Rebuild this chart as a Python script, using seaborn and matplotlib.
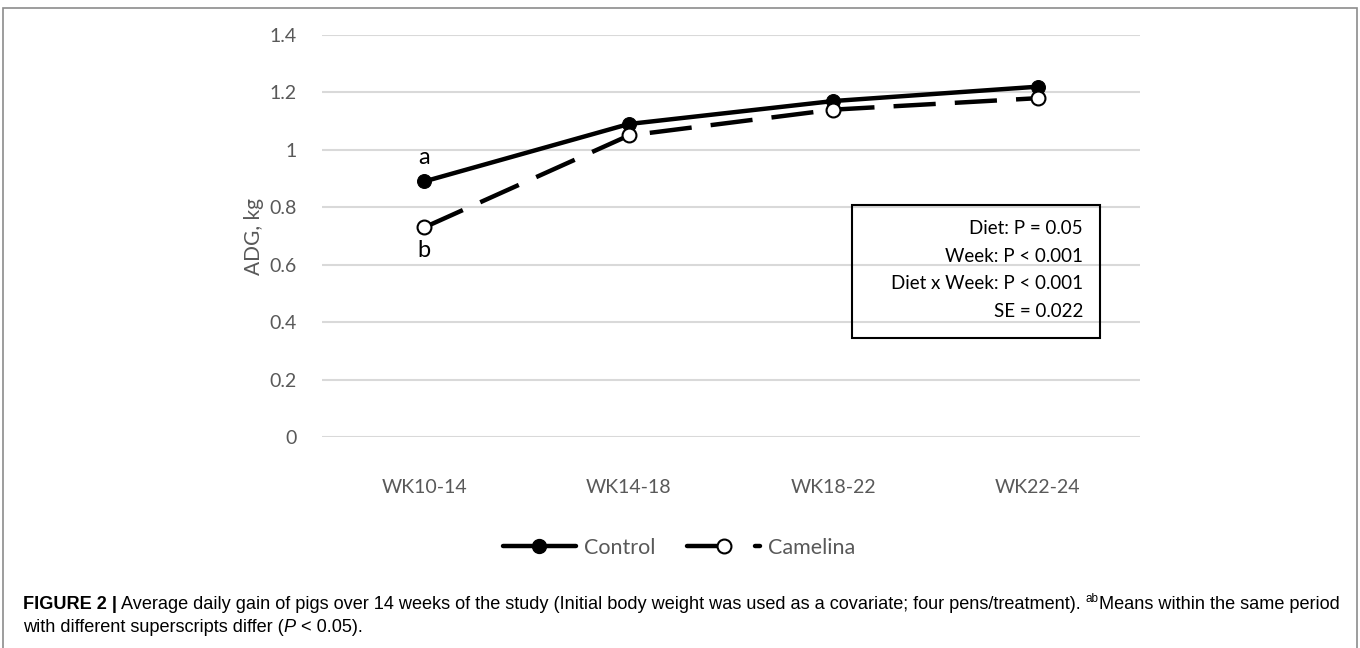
import matplotlib.pyplot as plt
import matplotlib.patches as patches
from matplotlib.lines import Line2D
import pandas as pd
import seaborn as sns

# Chart data
periods = ['WK10-14', 'WK14-18', 'WK18-22', 'WK22-24']
control = [0.89, 1.09, 1.17, 1.22]
camelina = [0.73, 1.05, 1.14, 1.18]
y_ticks = [0, 0.2, 0.4, 0.6, 0.8, 1.0, 1.2, 1.4]
y_tick_labels = ['0', '0.2', '0.4', '0.6', '0.8', '1', '1.2', '1.4']
letters = ['a', 'b']
letter_y = [0.975, 0.65]
stats_text = 'Diet: P = 0.05\nWeek: P < 0.001\nDiet x Week: P < 0.001\nSE = 0.022'

df = pd.DataFrame({'Period': periods * 2,
                   'ADG': control + camelina,
                   'Diet': ['Control'] * 4 + ['Camelina'] * 4})

sns.set_style('white')
plt.rcParams['font.family'] = ['Lato', 'DejaVu Sans']

fig = plt.figure(figsize=(13.6, 6.48), dpi=100)
ax = fig.add_axes([0.2368, 0.3256, 0.6015, 0.6204])

gray = '#595959'
dash = (0, (9.5, 4.3))

sns.lineplot(data=df[df['Diet'] == 'Control'], x='Period', y='ADG', ax=ax,
             color='black', linewidth=3.2, marker='o', markersize=10,
             markerfacecolor='black', markeredgecolor='black', zorder=3)
sns.lineplot(data=df[df['Diet'] == 'Camelina'], x='Period', y='ADG', ax=ax,
             color='black', linewidth=3.2, linestyle=dash, marker='o',
             markersize=10, markerfacecolor='white', markeredgecolor='black',
             markeredgewidth=1.5, zorder=4)

ax.set_xlim(-0.5, 3.5)
ax.set_ylim(0, 1.4)
ax.set_yticks(y_ticks)
ax.set_yticklabels(y_tick_labels)
ax.yaxis.grid(True, color='#d9d9d9', linewidth=1.5)
ax.set_axisbelow(True)
for s in ax.spines.values():
    s.set_visible(False)
ax.tick_params(axis='y', length=0, pad=18, labelsize=14, labelcolor=gray)
ax.tick_params(axis='x', length=0, pad=30, labelsize=14, labelcolor=gray)
ax.set_xlabel('')
ax.set_ylabel('ADG, kg', fontsize=15, color=gray, labelpad=4)

# superscript letters
for lab, yv in zip(letters, letter_y):
    ax.text(0, yv, lab, ha='center', va='center', fontsize=17, color='black')

# stats box
box = patches.Rectangle((852 / 1360, 1 - 338 / 648), 248 / 1360, 133 / 648,
                        transform=fig.transFigure, fill=False,
                        edgecolor='black', linewidth=1.5)
fig.add_artist(box)
fig.text(1083 / 1360, 1 - 270 / 648, stats_text, ha='right', va='center',
         fontsize=13.5, linespacing=1.75, color='black')

# legend (dashed handle ends in a short round stub, like the original)
h_control = Line2D([], [], color='black', linewidth=3.2, marker='o',
                   markersize=10, markerfacecolor='black')
h_camelina = Line2D([], [], color='black', linewidth=3.2,
                    linestyle=(0, (8.5, 6.8)), dash_capstyle='round',
                    marker='o', markersize=10,
                    markerfacecolor='white', markeredgewidth=1.5)
leg = fig.legend([h_control, h_camelina], ['Control', 'Camelina'],
                 loc='center', bbox_to_anchor=(679 / 1360, 1 - 548 / 648),
                 ncol=2, frameon=False, fontsize=15.5, handlelength=3.4,
                 handletextpad=0.35, columnspacing=1.5)
for t in leg.get_texts():
    t.set_color(gray)

# figure frame
frame = patches.Rectangle((0.0025, -0.02), 0.995, 1 - 8 / 648 + 0.02,
                          transform=fig.transFigure, fill=False,
                          edgecolor='#8c8c8c', linewidth=1.2)
fig.add_artist(frame)

# caption
cap_font = ['Liberation Sans', 'DejaVu Sans']
cs = 13.1
t1 = fig.text(23 / 1360, 1 - 609 / 648, 'FIGURE 2 |', fontsize=cs,
              fontweight='bold', family=cap_font, va='baseline', color='black')
t2 = plt.annotate(' Average daily gain of pigs over 14 weeks of the study '
                  '(Initial body weight was used as a covariate; four pens/treatment). ',
                  xy=(1, 0), xycoords=t1, va='bottom', ha='left',
                  fontsize=cs, family=cap_font, color='black',
                  annotation_clip=False)
t3 = plt.annotate('ab', xy=(1, 0.5), xycoords=t2, va='bottom', ha='left',
                  fontsize=cs * 0.65, family=cap_font, color='black',
                  annotation_clip=False)
t4 = plt.annotate('Means within the same period', xy=(1, 0), xycoords=(t3, t2),
                  va='bottom', ha='left', fontsize=cs, family=cap_font,
                  color='black', annotation_clip=False)

t5 = fig.text(23 / 1360, 1 - 632 / 648, 'with different superscripts differ (',
              fontsize=cs, family=cap_font, va='baseline', color='black')
t6 = plt.annotate('P', xy=(1, 0), xycoords=t5, va='bottom', ha='left',
                  fontsize=cs, family=cap_font, style='italic', color='black',
                  annotation_clip=False)
t7 = plt.annotate(' < 0.05).', xy=(1, 0), xycoords=t6, va='bottom', ha='left',
                  fontsize=cs, family=cap_font, color='black',
                  annotation_clip=False)

fig.savefig('out.png', dpi=100)
